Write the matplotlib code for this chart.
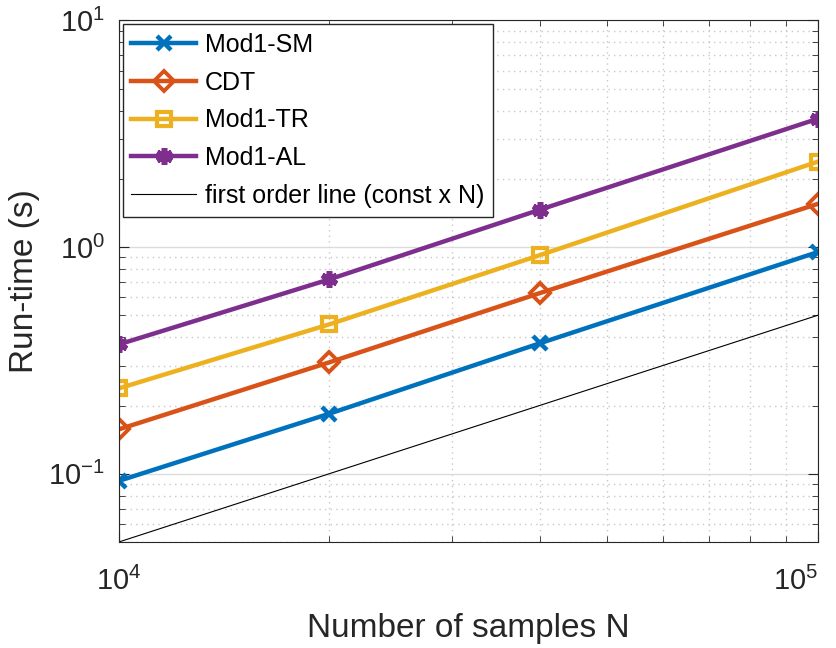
import matplotlib
matplotlib.use("Agg")
import matplotlib.pyplot as plt
from matplotlib.ticker import NullFormatter

plt.rcParams['font.family'] = ['Liberation Sans', 'DejaVu Sans']
plt.rcParams['mathtext.fontset'] = 'custom'
plt.rcParams['mathtext.rm'] = 'Liberation Sans'

N = [1e4, 2e4, 4e4, 1e5]
mod1_sm = [0.093, 0.184, 0.376, 0.95]
cdt = [0.157, 0.31, 0.626, 1.55]
mod1_tr = [0.238, 0.456, 0.92, 2.38]
mod1_al = [0.372, 0.72, 1.46, 3.68]
ref_N = [1e4, 1e5]
ref_const = 5e-6

fig = plt.figure(figsize=(8.37, 6.48), dpi=100)
ax = fig.add_axes([0.142, 0.1636, 0.835, 0.805])

ax.loglog(N, mod1_sm, '-x', color='#0072BD', lw=3.2, ms=10, mew=3.2, label='Mod1-SM')
ax.loglog(N, cdt, '-D', color='#D95319', lw=3.2, ms=10, mew=2.8, mfc='none', label='CDT')
ax.loglog(N, mod1_tr, '-s', color='#EDB120', lw=3.2, ms=10, mew=3, mfc='none', label='Mod1-TR')
ax.loglog(N, mod1_al, '-', marker=(6, 2, 0), color='#7E2F8E', lw=3.2, ms=12, mew=4,
          label='Mod1-AL')
ax.loglog(ref_N, [ref_const * n for n in ref_N], '-', color='black', lw=0.8,
          label='first order line (const x N)')

ax.set_xlim(1e4, 1e5)
ax.set_ylim(0.05, 10)
ax.set_xticks([1e4, 1e5], ['$10^4$', '$10^5$'])
ax.grid(which='major', color='#dcdcdc', lw=1, ls='-')
ax.grid(which='minor', color='#c8c8c8', lw=1, ls=(0, (1, 3)))
ax.tick_params(which='both', direction='in', top=True, right=True, labelsize=21,
               colors='#262626')
ax.tick_params(axis='x', pad=18)
ax.tick_params(axis='y', pad=10)
ax.tick_params(which='major', length=7)
ax.tick_params(which='minor', length=4)
ax.xaxis.set_minor_formatter(NullFormatter())
ax.yaxis.set_minor_formatter(NullFormatter())
ax.get_xticklabels()[-1].set_horizontalalignment('right')
for s in ax.spines.values():
    s.set_color('#262626')

ax.set_xlabel('Number of samples N', fontsize=24, color='#262626', labelpad=12)
ax.set_ylabel('Run-time (s)', fontsize=24, color='#262626', labelpad=6)

leg = ax.legend(loc='upper left', fontsize=18, fancybox=False, edgecolor='#262626',
                framealpha=1, borderaxespad=0.15, handlelength=2.6, labelspacing=0.55,
                borderpad=0.35, handletextpad=0.35)
leg.get_frame().set_linewidth(1)

plt.savefig('out.png', dpi=100)
